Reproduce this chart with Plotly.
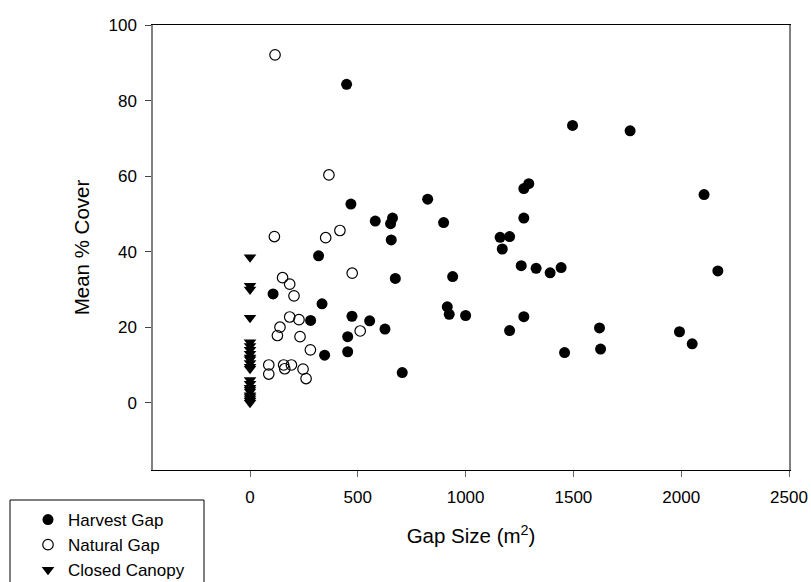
import plotly.graph_objects as go

# Harvest gaps: gap size (m^2) and mean % cover
harvest_x = [448, 468, 581, 661, 652, 655, 318, 674, 107, 334, 281, 473, 555, 626, 453, 453,
             346, 706, 1496, 1293, 1270, 824, 898, 1270, 1160, 1204, 1170, 940, 1258, 1327,
             1392, 1443, 915, 924, 1000, 1270, 1204, 1459, 1763, 2106, 2170, 1621, 1626, 1992, 2051]
harvest_y = [84.3, 52.6, 48.1, 48.9, 47.4, 43.1, 38.9, 32.9, 28.8, 26.2, 21.8, 22.9, 21.7, 19.5, 17.5, 13.5,
             12.6, 8.0, 73.4, 58.0, 56.7, 53.9, 47.7, 48.9, 43.8, 44.0, 40.7, 33.4, 36.3, 35.6,
             34.4, 35.8, 25.4, 23.4, 23.1, 22.8, 19.1, 13.3, 72.0, 55.1, 34.9, 19.8, 14.2, 18.8, 15.6]

# Natural gaps
natural_x = [116, 366, 113, 351, 417, 474, 151, 184, 204, 184, 227, 139, 127, 232, 280, 511,
             87, 87, 156, 161, 192, 246, 260]
natural_y = [92.1, 60.3, 44.0, 43.7, 45.6, 34.3, 33.1, 31.4, 28.3, 22.7, 22.0, 20.0, 17.8, 17.5, 14.0, 19.0,
             10.0, 7.6, 10.0, 9.0, 10.0, 8.9, 6.4]

# Closed canopy (gap size 0)
closed_y = [38.5, 31.0, 30.0, 22.5, 16.0, 15.0, 14.0, 13.0, 12.0, 11.5, 10.5, 9.5, 9.0,
            6.0, 5.0, 4.0, 3.5, 3.0, 2.0, 1.5, 1.0, 0.5, 0.0]
closed_x = [0] * len(closed_y)

x_ticks = [0, 500, 1000, 1500, 2000, 2500]
y_ticks = [0, 20, 40, 60, 80, 100]

FONT = "Liberation Sans, Arial, sans-serif"

fig = go.Figure()
fig.add_trace(go.Scatter(x=harvest_x, y=harvest_y, mode="markers", name="Harvest Gap",
                         marker=dict(symbol="circle", size=11, color="black", line=dict(width=0))))
fig.add_trace(go.Scatter(x=natural_x, y=natural_y, mode="markers", name="Natural Gap",
                         marker=dict(symbol="circle-open", size=10.5, color="black", line=dict(width=1.2))))
fig.add_trace(go.Scatter(x=closed_x, y=closed_y, mode="markers", name="Closed Canopy",
                         marker=dict(symbol="triangle-down", size=11, color="black", line=dict(width=0))))

PW, PH = 636.0, 445.0  # plot area size in px
fig.update_layout(
    width=811, height=582,
    margin=dict(l=153, r=22, t=25, b=112, autoexpand=False),
    paper_bgcolor="white", plot_bgcolor="white",
    font=dict(family=FONT, size=17, color="black"),
    showlegend=True,
    legend=dict(x=(28 - 153) / PW, y=(470 - 502) / PH, xanchor="left", yanchor="top",
                bgcolor="rgba(0,0,0,0)", borderwidth=0, font=dict(size=17),
                itemsizing="trace"),
    shapes=[dict(type="rect", xref="paper", yref="paper",
                 x0=(10 - 153) / PW, x1=(204 - 153) / PW,
                 y0=(470 - 592) / PH, y1=(470 - 500) / PH,
                 line=dict(color="black", width=1), fillcolor="rgba(0,0,0,0)", layer="above")],
)

fig.update_xaxes(range=[-450, 2500], tickvals=x_ticks, ticks="outside", ticklen=6,
                 tickcolor="#666", showgrid=False, zeroline=False,
                 showline=True, linecolor="black", linewidth=1, mirror=True,
                 tickfont=dict(size=17), ticklabelstandoff=6,
                 title=dict(text="Gap Size (m<sup>2</sup>)", font=dict(size=20.5), standoff=22))
fig.update_yaxes(range=[-17.8, 100], tickvals=y_ticks, ticks="outside", ticklen=6,
                 tickcolor="#444", showgrid=False, zeroline=False,
                 showline=True, linecolor="#808080", linewidth=1.5, mirror=True,
                 tickfont=dict(size=17), ticklabelstandoff=5,
                 title=dict(text="Mean % Cover", font=dict(size=20.5), standoff=13))

fig.write_html("out.html", config={"displayModeBar": False},
               post_script="document.body.style.margin='0';")
